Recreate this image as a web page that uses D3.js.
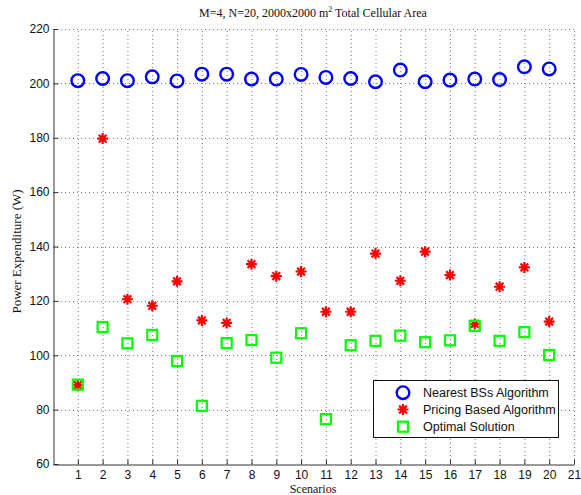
<!DOCTYPE html>
<html><head><meta charset="utf-8">
<script src="https://cdn.jsdelivr.net/npm/d3@7/dist/d3.min.js"></script>
<style>body{margin:0;background:#fff}</style>
</head><body>
<svg id="c" width="581" height="495"></svg>
<script>
const scenarios = d3.range(1, 21);
const nearestBS = [201.0,201.8,201.0,202.4,200.9,203.4,203.4,201.6,201.6,203.3,202.2,201.8,200.6,204.9,200.6,201.2,201.6,201.4,206.1,205.3];
const pricing = [89.0,179.7,120.6,118.2,127.2,112.8,111.9,133.5,129.1,130.8,116.0,116.0,137.4,127.4,138.1,129.5,111.5,125.2,132.3,112.4];
const optimal = [89.2,110.4,104.4,107.5,97.9,81.4,104.5,105.6,99.1,108.1,76.5,103.7,105.3,107.2,104.8,105.5,110.8,105.3,108.5,100.1];
const xTicks = d3.range(1, 22);
const yTicks = d3.range(60, 221, 20);
const seriesNames = ["Nearest BSs Algorithm","Pricing Based Algorithm","Optimal Solution"];

const svg = d3.select("#c");
const x = d3.scaleLinear().domain([0,21]).range([53,574]);
const y = d3.scaleLinear().domain([60,220]).range([464,29]);

// grid
const g = svg.append("g");
g.selectAll(".gx").data(xTicks).enter().append("line")
  .attr("x1",d=>x(d)+0.5).attr("x2",d=>x(d)+0.5).attr("y1",y(60)).attr("y2",y(220))
  .attr("stroke","#777").attr("stroke-width",1).attr("stroke-dasharray","1,3");
g.selectAll(".gy").data(yTicks.filter(d=>d>60)).enter().append("line")
  .attr("x1",x(0)).attr("x2",x(21)).attr("y1",d=>Math.round(y(d))+0.5).attr("y2",d=>Math.round(y(d))+0.5)
  .attr("stroke","#777").attr("stroke-width",1).attr("stroke-dasharray","1,3");

// axes
const xAxis = d3.axisBottom(x).tickValues(xTicks).tickSizeInner(-5).tickSizeOuter(0).tickPadding(5.5);
const yAxis = d3.axisLeft(y).tickValues(yTicks).tickSizeInner(-5).tickSizeOuter(0).tickPadding(4);
const gx = svg.append("g").attr("transform",`translate(0,${Math.round(y(60))+0.5})`).call(xAxis);
const gy = svg.append("g").attr("transform",`translate(${Math.round(x(0))+0.5},0)`).call(yAxis);
[gx,gy].forEach(a=>{
  a.selectAll("path").attr("stroke","#333");
  a.selectAll("line").attr("stroke","#333");
  a.selectAll("text").attr("font-family","'Liberation Sans', Arial, sans-serif").attr("font-size",12).attr("fill","#111");
});

// markers
function star(sel, r){
  sel.append("path")
    .attr("d",`M${-r},0L${r},0M0,${-r}L0,${r}M${-r*0.7},${-r*0.7}L${r*0.7},${r*0.7}M${-r*0.7},${r*0.7}L${r*0.7},${-r*0.7}`)
    .attr("stroke","#ff0000").attr("stroke-width",2.2).attr("fill","none");
}
svg.append("g").selectAll("circle").data(nearestBS).enter().append("circle")
  .attr("cx",(d,i)=>x(scenarios[i])).attr("cy",d=>y(d)).attr("r",6.3)
  .attr("fill","none").attr("stroke","#0000ff").attr("stroke-width",2.4);
svg.append("g").selectAll("g").data(pricing).enter().append("g")
  .attr("transform",(d,i)=>`translate(${x(scenarios[i])},${y(d)})`)
  .each(function(){star(d3.select(this),5.5);});
svg.append("g").selectAll("rect").data(optimal).enter().append("rect")
  .attr("x",(d,i)=>x(scenarios[i])-5).attr("y",d=>y(d)-5).attr("width",10).attr("height",10)
  .attr("fill","none").attr("stroke","#00ff00").attr("stroke-width",2.2);

// title & labels
const title = svg.append("text").attr("x",313).attr("y",17).attr("text-anchor","middle")
  .attr("font-family","'Liberation Serif','Times New Roman',serif").attr("font-size",12).attr("fill","#111");
title.append("tspan").text("M=4, N=20, 2000x2000 m");
title.append("tspan").attr("dy",-5).attr("font-size",8).text("2");
title.append("tspan").attr("dy",5).text(" Total Cellular Area");
svg.append("text").attr("x",313).attr("y",492.5).attr("text-anchor","middle")
  .attr("font-family","'Liberation Serif','Times New Roman',serif").attr("font-size",12).attr("fill","#111").text("Scenarios");
svg.append("text").attr("transform","translate(20.5,251.5) rotate(-90)").attr("text-anchor","middle")
  .attr("font-family","'Liberation Serif','Times New Roman',serif").attr("font-size",13).attr("fill","#111").text("Power Expenditure (W)");

// legend
const lg = svg.append("g");
lg.append("rect").attr("x",373.5).attr("y",380.5).attr("width",185).attr("height",57)
  .attr("fill","#fff").attr("stroke","#111").attr("stroke-width",1);
const rows = [392.7,409.5,426.7];
lg.append("circle").attr("cx",403).attr("cy",rows[0]).attr("r",6.3).attr("fill","none").attr("stroke","#0000ff").attr("stroke-width",2.4);
star(lg.append("g").attr("transform",`translate(403,${rows[1]})`),5.5);
lg.append("rect").attr("x",398).attr("y",rows[2]-5).attr("width",10).attr("height",10).attr("fill","none").attr("stroke","#00ff00").attr("stroke-width",2.2);
lg.selectAll("text.l").data(seriesNames).enter().append("text")
  .attr("x",423).attr("y",(d,i)=>rows[i]+4.5)
  .attr("font-family","'Liberation Sans', Arial, sans-serif").attr("font-size",12.5).attr("fill","#111").text(d=>d);
</script>
</body></html>
